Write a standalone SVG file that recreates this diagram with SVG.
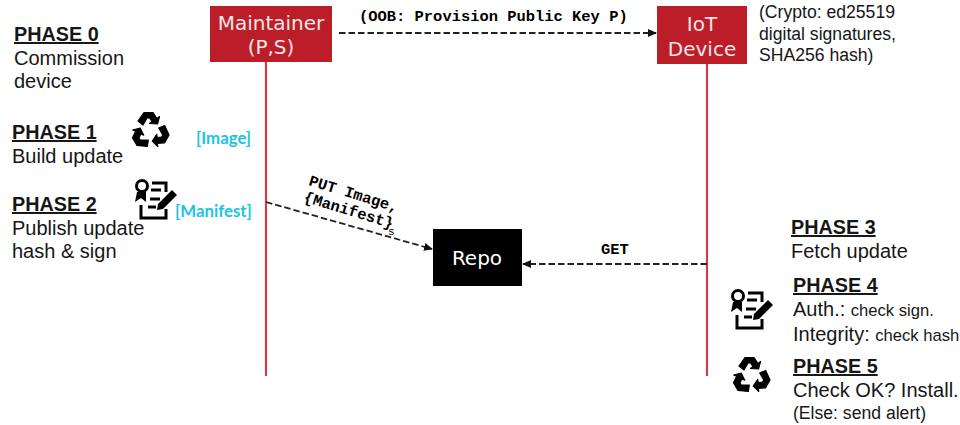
<svg xmlns="http://www.w3.org/2000/svg" width="960" height="425" viewBox="0 0 960 425">
<style>
text{font-family:"Liberation Sans",Arial,sans-serif;fill:#161616}
.h{font-size:19.8px;font-weight:bold;text-decoration:underline}
.t{font-size:20px}
.s{font-size:16.6px}
.k{font-size:17.6px}
.m{font-family:"Liberation Mono","DejaVu Sans Mono",monospace;font-weight:bold;font-size:15.45px;fill:#000}
.n{font-family:"DejaVu Sans",sans-serif;font-size:20px;fill:#f6e6e6;text-anchor:middle}
.c{font-family:"Lato","Open Sans",sans-serif;font-weight:bold;font-size:16.8px;fill:#1cc4e4}
.l{stroke:#cb3f48;stroke-width:2.2;fill:none}
.d{stroke:#222;stroke-width:1.8;stroke-dasharray:6.5 3;fill:none;marker-end:url(#a)}
</style>
<defs>
<marker id="a" markerWidth="9" markerHeight="8" refX="8" refY="4" orient="auto" markerUnits="userSpaceOnUse"><path d="M0 0L9 4L0 8Z" fill="#111"/></marker>
<path id="arm" d="M-12 -10L-6 -18.5H3L7 -12.5L9.5 -14.5L7.5 -7L-0.5 -7.5L2 -9.5L-0.5 -13H-3L-7 -6Z" fill="#000" stroke="#000" stroke-width="1.2" stroke-linejoin="round"/>
<g id="rec"><use href="#arm"/><use href="#arm" transform="rotate(120)"/><use href="#arm" transform="rotate(240)"/></g>
<g id="cert" fill="none" stroke="#000" stroke-width="3"><circle cx="-12" cy="-13" r="5.5"/><path d="M-17 -7L-19 3L-13 -1L-8 3L-8 -7Z" fill="#000" stroke="none"/><path d="M-2 -16H12V-7M-3 -9H7M-4 0H6M-6 8H2M-13 6V19H12V10"/><path d="M3 11L4 5L18 -9L23 -4L9 10Z" fill="#000" stroke="none"/></g>
</defs>
<g id="connectors">
<path class="l" d="M266 62V376"/>
<path class="l" d="M707 64V376"/>
<path class="d" d="M339 33H656"/>
<path class="d" d="M266 202L432 249"/>
<path class="d" d="M707 264H523"/>
<text class="m" x="359" y="21">(OOB: Provision Public Key P)</text>
<text class="m" x="601" y="254">GET</text>
<g transform="translate(308 185) rotate(17)"><text class="m">PUT Image,</text><text class="m" y="17">{Manifest}</text></g>
<text class="m" x="388" y="235" style="font-size:11px;font-weight:normal">s</text>
</g>
<g id="maintainer"><rect x="210" y="6" width="122" height="56" fill="#bb1e28"/><text class="n" x="271" y="30">Maintainer</text><text class="n" x="271" y="54">(P,S)</text></g>
<g id="iot"><rect x="657" y="6" width="90" height="58" fill="#bb1e28"/><text class="n" x="702" y="31">IoT</text><text class="n" x="702" y="56">Device</text></g>
<g id="repo"><rect x="433" y="229" width="89" height="57" fill="#000"/><text class="n" x="477" y="265" style="fill:#fff">Repo</text></g>
<g id="crypto"><text class="k" x="759" y="18">(Crypto: ed25519</text><text class="k" x="759" y="40">digital signatures,</text><text class="k" x="759" y="61">SHA256 hash)</text></g>
<g id="phase0"><text class="h" x="14" y="41">PHASE 0</text><text class="t" x="14" y="65">Commission</text><text class="t" x="14" y="88">device</text></g>
<g id="phase1"><text class="h" x="12" y="139">PHASE 1</text><text class="t" x="12" y="163">Build update</text><use href="#rec" x="150" y="131"/><text class="c" x="196" y="143.5">[Image]</text></g>
<g id="phase2"><text class="h" x="12" y="211">PHASE 2</text><text class="t" x="12" y="235">Publish update</text><text class="t" x="12" y="258">hash &amp; sign</text><use href="#cert" x="154" y="199"/><text class="c" x="175" y="217">[Manifest]</text></g>
<g id="phase3"><text class="h" x="791" y="234">PHASE 3</text><text class="t" x="791" y="258">Fetch update</text></g>
<g id="phase4"><use href="#cert" x="750" y="309"/><text class="h" x="793" y="292">PHASE 4</text><text class="t" x="793" y="316">Auth.: <tspan class="s">check sign.</tspan></text><text class="t" x="793" y="341">Integrity: <tspan class="s">check hash</tspan></text></g>
<g id="phase5"><use href="#rec" x="751" y="376"/><text class="h" x="793" y="373">PHASE 5</text><text class="t" x="793" y="397">Check OK? Install.</text><text class="k" x="793" y="419">(Else: send alert)</text></g>
</svg>
